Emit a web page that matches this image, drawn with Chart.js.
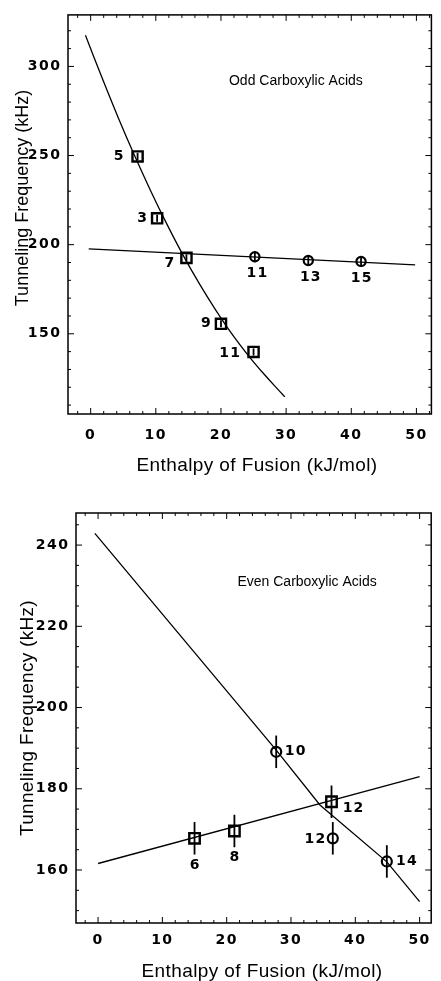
<!DOCTYPE html>
<html>
<head>
<meta charset="utf-8">
<script src="https://cdn.jsdelivr.net/npm/chart.js@4.4.1/dist/chart.umd.min.js"></script>
<style>
  html, body { margin: 0; padding: 0; background: #fff; }
  #wrap { position: relative; width: 441px; height: 981px; overflow: hidden; }
  canvas { position: absolute; left: 0; }
  #oddChart { top: 0; }
  #evenChart { top: 490px; }
</style>
</head>
<body>
<div id="wrap">
  <canvas id="oddChart" width="441" height="490"></canvas>
  <canvas id="evenChart" width="441" height="491"></canvas>
</div>
<script>
// ---------------------------------------------------------------
// Datos: ácidos carboxílicos impares (panel superior)
// ---------------------------------------------------------------
var oddCurveX = [-0.8, 1.7, 4.2, 6.7, 9.2, 11.7, 14.2, 16.7, 19.2, 21.7, 24.2, 26.7, 29.2, 29.8];
var oddCurveY = [317.5, 294, 271.5, 250.3, 230.3, 211.5, 194, 178, 163.3, 149.8, 137.8, 127, 117, 114.6];
var oddFlatX = [-0.3, 49.8];
var oddFlatY = [197.6, 188.7];
var oddSquareX = [7.2, 10.2, 14.7, 20.0, 25.0];
var oddSquareY = [249.5, 214.8, 192.6, 155.6, 139.8];
var oddSquareErr = [2, 2, 2, 2, 2];
var oddSquareLabels = ['5', '3', '7', '9', '11'];
var oddCircleX = [25.2, 33.4, 41.5];
var oddCircleY = [193.2, 191.1, 190.6];
var oddCircleErr = [3, 3, 3];
var oddCircleLabels = ['11', '13', '15'];
var oddXTicks = [0, 10, 20, 30, 40, 50];
var oddYTicks = [150, 200, 250, 300];

// ---------------------------------------------------------------
// Datos: ácidos carboxílicos pares (panel inferior)
// ---------------------------------------------------------------
var evenDownX = [-0.5, 27.7, 34.5, 44.9, 50];
var evenDownY = [242.9, 189.5, 176, 162.0, 152.2];
var evenUpX = [0, 50];
var evenUpY = [161.6, 183];
var evenSquareX = [15.0, 21.2, 36.3];
var evenSquareY = [167.8, 169.6, 176.8];
var evenSquareErr = [4, 4, 4];
var evenSquareLabels = ['6', '8', '12'];
var evenCircleX = [27.7, 36.5, 44.9];
var evenCircleY = [189.1, 167.8, 162.1];
var evenCircleErr = [4, 4, 4];
var evenCircleLabels = ['10', '12', '14'];
var evenXTicks = [0, 10, 20, 30, 40, 50];
var evenYTicks = [160, 180, 200, 220, 240];

function pares(xs, ys) {
  return xs.map(function (x, i) { return { x: x, y: ys[i] }; });
}

// marcos, ticks hacia adentro, barras de error, etiquetas y títulos
var figuraPlugin = {
  id: 'figura',
  beforeDraw: function (chart) {
    chart.ctx.letterSpacing = '1.5px';
  },
  afterDatasetsDraw: function (chart) {
    var ctx = chart.ctx, ys = chart.scales.y;
    ctx.save();
    ctx.strokeStyle = '#000';
    ctx.lineWidth = 1.8;
    chart.data.datasets.forEach(function (ds, i) {
      if (!ds.errY) return;
      var meta = chart.getDatasetMeta(i);
      meta.data.forEach(function (pt, j) {
        var v = ds.data[j].y;
        ctx.beginPath();
        ctx.moveTo(pt.x, ys.getPixelForValue(v + ds.errY[j]));
        ctx.lineTo(pt.x, ys.getPixelForValue(v - ds.errY[j]));
        ctx.stroke();
      });
    });
    ctx.restore();
  },
  afterDraw: function (chart, args, opts) {
    var ctx = chart.ctx, a = chart.chartArea;
    var xs = chart.scales.x, ys = chart.scales.y;
    ctx.save();
    ctx.strokeStyle = '#000';
    ctx.lineWidth = 1.5;
    ctx.strokeRect(a.left, a.top, a.right - a.left, a.bottom - a.top);

    // ticks menores y mayores
    ctx.lineWidth = 1;
    function marcas(scale, step, majors, horizontal) {
      var v = Math.ceil(scale.min / step) * step;
      for (; v <= scale.max + 1e-9; v += step) {
        var big = majors.some(function (m) { return Math.abs(m - v) < 1e-6; });
        var len = big ? 6 : 3;
        var p = scale.getPixelForValue(v);
        ctx.beginPath();
        if (horizontal) {
          ctx.moveTo(p, a.bottom); ctx.lineTo(p, a.bottom - len);
          ctx.moveTo(p, a.top); ctx.lineTo(p, a.top + len);
        } else {
          ctx.moveTo(a.left, p); ctx.lineTo(a.left + len, p);
          ctx.moveTo(a.right, p); ctx.lineTo(a.right - len, p);
        }
        ctx.stroke();
      }
    }
    marcas(xs, opts.minorX, opts.xTicks, true);
    marcas(ys, opts.minorY, opts.yTicks, false);

    // etiquetas de los puntos
    ctx.fillStyle = '#000';
    ctx.font = 'bold 14px "DejaVu Sans"';
    ctx.letterSpacing = '1.2px';
    ctx.textAlign = 'center';
    ctx.textBaseline = 'middle';
    chart.data.datasets.forEach(function (ds, i) {
      if (!ds.labels) return;
      var meta = chart.getDatasetMeta(i);
      meta.data.forEach(function (pt, j) {
        ctx.fillText(ds.labels[j], pt.x + ds.labelDx[j] + 0.6, pt.y + ds.labelDy[j]);
      });
    });

    // rótulo interior
    ctx.letterSpacing = '0px';
    ctx.font = '14px "Liberation Sans", Arial';
    ctx.fillText(opts.heading.text, xs.getPixelForValue(opts.heading.x), ys.getPixelForValue(opts.heading.y));

    // títulos de ejes
    var t = opts.xTitle;
    ctx.letterSpacing = t.spacing + 'px';
    ctx.font = t.size + 'px "Liberation Sans", Arial';
    ctx.fillText(t.text, t.x, t.y);
    t = opts.yTitle;
    ctx.letterSpacing = t.spacing + 'px';
    ctx.font = t.size + 'px "Liberation Sans", Arial';
    ctx.translate(t.x, t.y);
    ctx.rotate(-Math.PI / 2);
    ctx.fillText(t.text, 0, 0);
    ctx.restore();
  }
};

function armarGrafico(canvasId, cfg) {
  var lineStyle = { showLine: true, borderColor: '#000', borderWidth: 1.3, pointRadius: 0, fill: false };
  var datasets = cfg.lines.map(function (l) {
    return Object.assign({}, lineStyle, { data: pares(l.x, l.y), tension: l.tension || 0 });
  });
  datasets.push({
    data: pares(cfg.squares.x, cfg.squares.y), pointStyle: 'rect', pointRadius: cfg.squareR,
    borderColor: '#000', borderWidth: 2.4, backgroundColor: '#fff',
    errY: cfg.squares.err, labels: cfg.squares.labels, labelDx: cfg.squares.dx, labelDy: cfg.squares.dy
  });
  datasets.push({
    data: pares(cfg.circles.x, cfg.circles.y), pointStyle: 'circle', pointRadius: cfg.circleR,
    borderColor: '#000', borderWidth: 2.2, backgroundColor: '#fff',
    errY: cfg.circles.err, labels: cfg.circles.labels, labelDx: cfg.circles.dx, labelDy: cfg.circles.dy
  });

  var tickFont = { family: '"DejaVu Sans"', size: 14, weight: 'bold' };
  return new Chart(document.getElementById(canvasId), {
    type: 'scatter',
    data: { datasets: datasets },
    options: {
      responsive: false, animation: false, devicePixelRatio: 1,
      layout: { padding: cfg.padding },
      plugins: { legend: { display: false }, tooltip: { enabled: false }, figura: cfg.figura },
      scales: {
        x: {
          type: 'linear', min: cfg.xMin, max: cfg.xMax,
          grid: { drawOnChartArea: false, drawTicks: false }, border: { display: false },
          ticks: { color: '#000', font: tickFont, padding: cfg.xPad, maxRotation: 0 },
          afterBuildTicks: function (s) { s.ticks = cfg.xTicks.map(function (v) { return { value: v }; }); },
          afterFit: function (s) { s.height = cfg.xHeight; }
        },
        y: {
          type: 'linear', min: cfg.yMin, max: cfg.yMax,
          grid: { drawOnChartArea: false, drawTicks: false }, border: { display: false },
          ticks: { color: '#000', font: tickFont, padding: 6.5 },
          afterBuildTicks: function (s) { s.ticks = cfg.yTicks.map(function (v) { return { value: v }; }); },
          afterFit: function (s) { s.width = cfg.yWidth; }
        }
      }
    },
    plugins: [figuraPlugin]
  });
}

armarGrafico('oddChart', {
  lines: [{ x: oddCurveX, y: oddCurveY, tension: 0.4 }, { x: oddFlatX, y: oddFlatY }],
  squares: { x: oddSquareX, y: oddSquareY, err: oddSquareErr, labels: oddSquareLabels,
             dx: [-19, -15, -17, -15, -24], dy: [0, 0, 6, 0, 1] },
  circles: { x: oddCircleX, y: oddCircleY, err: oddCircleErr, labels: oddCircleLabels,
             dx: [2, 2, 0], dy: [17, 17, 17] },
  squareR: 7.2, circleR: 4.6,
  xMin: -3.48, xMax: 52.3, yMin: 105, yMax: 328.9,
  xTicks: oddXTicks, yTicks: oddYTicks,
  padding: { left: 0, top: 12, right: 5, bottom: 0 },
  xHeight: 76, yWidth: 68, xPad: 13,
  figura: {
    xTicks: oddXTicks, yTicks: oddYTicks, minorX: 2, minorY: 10,
    heading: { text: 'Odd Carboxylic Acids', x: 31.5, y: 291.7 },
    xTitle: { text: 'Enthalpy of Fusion (kJ/mol)', x: 257, y: 466, size: 19, spacing: 0.4 },
    yTitle: { text: 'Tunneling Frequency (kHz)', x: 23, y: 198, size: 18, spacing: 0 }
  }
});

armarGrafico('evenChart', {
  lines: [{ x: evenDownX, y: evenDownY }, { x: evenUpX, y: evenUpY }],
  squares: { x: evenSquareX, y: evenSquareY, err: evenSquareErr, labels: evenSquareLabels,
             dx: [0, 0, 21.5], dy: [27, 26, 7] },
  circles: { x: evenCircleX, y: evenCircleY, err: evenCircleErr, labels: evenCircleLabels,
             dx: [19, -18, 19.5], dy: [0, 1, 0] },
  squareR: 7.4, circleR: 5,
  xMin: -3.43, xMax: 51.8, yMin: 146.95, yMax: 247.9,
  xTicks: evenXTicks, yTicks: evenYTicks,
  padding: { left: 0, top: 23, right: 3, bottom: 0 },
  xHeight: 58, yWidth: 76, xPad: 9,
  figura: {
    xTicks: evenXTicks, yTicks: evenYTicks, minorX: 2, minorY: 5,
    heading: { text: 'Even Carboxylic Acids', x: 32.5, y: 230.9 },
    xTitle: { text: 'Enthalpy of Fusion (kJ/mol)', x: 262, y: 482, size: 19, spacing: 0.4 },
    yTitle: { text: 'Tunneling Frequency (kHz)', x: 28, y: 228, size: 19, spacing: 0.3 }
  }
});
</script>
</body>
</html>
